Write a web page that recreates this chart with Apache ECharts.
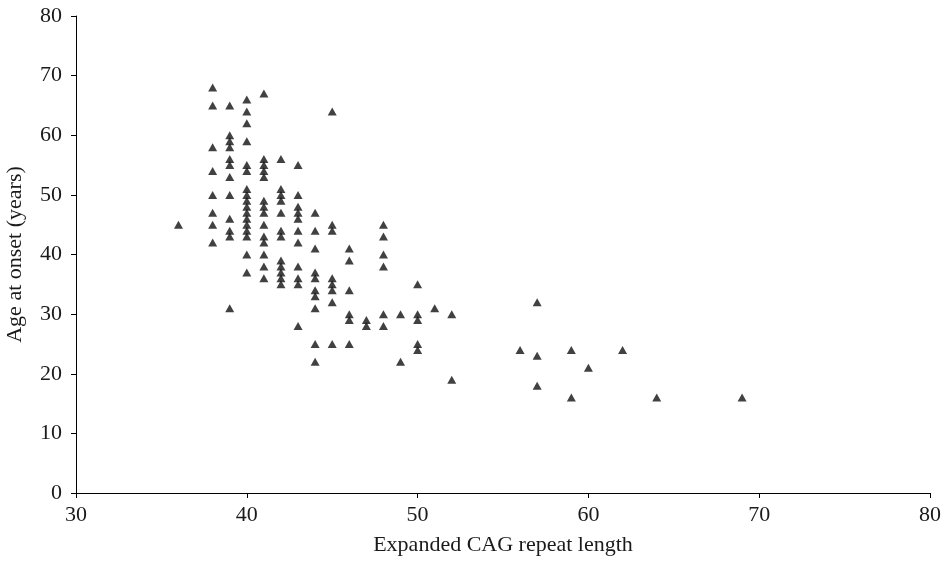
<!DOCTYPE html>
<html>
<head>
<meta charset="utf-8">
<script src="https://cdn.jsdelivr.net/npm/echarts@6/dist/echarts.min.js"></script>
<style>
html,body{margin:0;padding:0;background:#fff;}
#chart{width:946px;height:563px;}
</style>
</head>
<body>
<div id="chart"></div>
<script>
// Expanded CAG repeat length (x) and ages at onset observed at each length (y)
const repeatLengths = [36, 38, 39, 40, 41, 42, 43, 44, 45, 46, 47, 48, 49, 50, 51, 52, 56, 57, 59, 60, 62, 64, 69];
const onsetAges = [
  [45],
  [68, 65, 58, 54, 50, 47, 45, 42],
  [65, 60, 59, 58, 56, 55, 53, 50, 46, 44, 43, 31],
  [66, 64, 62, 59, 55, 54, 51, 50, 49, 48, 47, 46, 45, 44, 43, 40, 37],
  [67, 56, 55, 54, 53, 49, 48, 47, 45, 43, 42, 40, 38, 36],
  [56, 51, 50, 49, 47, 44, 43, 39, 38, 37, 36, 35],
  [55, 50, 48, 47, 46, 44, 42, 38, 36, 35, 28],
  [47, 44, 41, 37, 36, 34, 33, 31, 25, 22],
  [64, 45, 44, 36, 35, 34, 32, 25],
  [41, 39, 34, 30, 29, 25],
  [29, 28],
  [45, 43, 40, 38, 30, 28],
  [30, 22],
  [35, 30, 29, 25, 24],
  [31],
  [30, 19],
  [24],
  [32, 23, 18],
  [24, 16],
  [21],
  [24],
  [16],
  [16]
];
const xTicks = [30, 40, 50, 60, 70, 80];
const yTicks = [0, 10, 20, 30, 40, 50, 60, 70, 80];

const points = [];
repeatLengths.forEach((x, i) => onsetAges[i].forEach(y => points.push([x, y])));

const font = '"Liberation Serif", "Times New Roman", serif';
const textColor = '#1a1a1a';
const chart = echarts.init(document.getElementById('chart'), null, {renderer: 'canvas'});
chart.setOption({
  animation: false,
  backgroundColor: '#fff',
  grid: {left: 76, right: 16, top: 16, bottom: 70, containLabel: false, outerBoundsMode: 'none'},
  xAxis: {
    type: 'value',
    min: xTicks[0], max: xTicks[xTicks.length - 1], interval: 10,
    name: 'Expanded CAG repeat length',
    nameLocation: 'middle', nameGap: 41,
    nameTextStyle: {fontFamily: font, fontSize: 22, color: textColor},
    axisLine: {lineStyle: {color: '#000', width: 1}},
    axisTick: {show: true, inside: false, length: 5, lineStyle: {color: '#000'}},
    axisLabel: {fontFamily: font, fontSize: 22, color: textColor, margin: 11},
    splitLine: {show: false}
  },
  yAxis: {
    type: 'value',
    min: yTicks[0], max: yTicks[yTicks.length - 1], interval: 10,
    name: 'Age at onset (years)',
    nameLocation: 'middle', nameGap: 50,
    nameTextStyle: {fontFamily: font, fontSize: 22, color: textColor},
    axisLine: {show: true, lineStyle: {color: '#000', width: 1}},
    axisTick: {show: true, inside: false, length: 5, lineStyle: {color: '#000'}},
    axisLabel: {fontFamily: font, fontSize: 22, color: textColor, margin: 14},
    splitLine: {show: false}
  },
  series: [{
    type: 'scatter',
    symbol: 'triangle',
    symbolSize: [9, 8],
    itemStyle: {color: '#111'},
    data: points
  }]
});
</script>
</body>
</html>
